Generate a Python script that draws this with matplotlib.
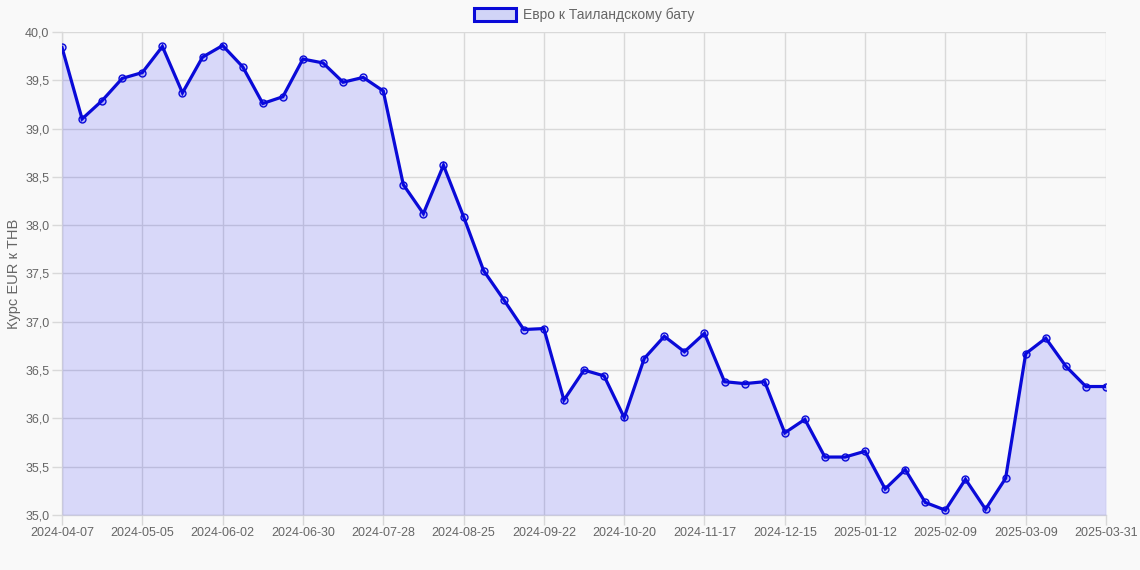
"""EUR/THB weekly rate, Chart.js-like look."""

import matplotlib
matplotlib.use("Agg")
import matplotlib.pyplot as plt
from matplotlib.patches import Patch
from matplotlib.ticker import FuncFormatter, MultipleLocator

# --- data -----------------------------------------------------------------
dates = [
    "2024-04-07", "2024-04-14", "2024-04-21", "2024-04-28", "2024-05-05",
    "2024-05-12", "2024-05-19", "2024-05-26", "2024-06-02", "2024-06-09",
    "2024-06-16", "2024-06-23", "2024-06-30", "2024-07-07", "2024-07-14",
    "2024-07-21", "2024-07-28", "2024-08-04", "2024-08-11", "2024-08-18",
    "2024-08-25", "2024-09-01", "2024-09-08", "2024-09-15", "2024-09-22",
    "2024-09-29", "2024-10-06", "2024-10-13", "2024-10-20", "2024-10-27",
    "2024-11-03", "2024-11-10", "2024-11-17", "2024-11-24", "2024-12-01",
    "2024-12-08", "2024-12-15", "2024-12-22", "2024-12-29", "2025-01-05",
    "2025-01-12", "2025-01-19", "2025-01-26", "2025-02-02", "2025-02-09",
    "2025-02-16", "2025-02-23", "2025-03-02", "2025-03-09", "2025-03-16",
    "2025-03-23", "2025-03-30", "2025-03-31",
]
eur_thb = [
    39.84, 39.10, 39.29, 39.52, 39.58, 39.85, 39.37, 39.74, 39.86, 39.64,
    39.26, 39.33, 39.72, 39.68, 39.48, 39.53, 39.39, 38.42, 38.12, 38.62,
    38.09, 37.53, 37.23, 36.92, 36.93, 36.19, 36.50, 36.44, 36.01, 36.62,
    36.85, 36.69, 36.88, 36.38, 36.36, 36.38, 35.85, 35.99, 35.60, 35.60,
    35.66, 35.27, 35.47, 35.13, 35.05, 35.37, 35.06, 35.38, 36.67, 36.83,
    36.54, 36.33, 36.33,
]
series_label = "Евро к Таиландскому бату"
y_label = "Курс EUR к THB"

# --- style ----------------------------------------------------------------
BG = "#f9f9f9"
GRID = "#d9d9d9"
TEXT = "#666666"
LINE = "#0a0ad8"
FILL = (0.0, 0.0, 1.0, 0.13)

plt.rcParams["font.family"] = ["Liberation Sans", "DejaVu Sans"]

fig = plt.figure(figsize=(11.4, 5.7), dpi=100, facecolor=BG)
ax = fig.add_axes([62 / 1140, 1 - 515 / 570, (1106 - 62) / 1140, (515 - 32) / 570])
ax.set_facecolor(BG)

x = list(range(len(dates)))
ax.fill_between(x, eur_thb, 35.0, color=FILL, linewidth=0, zorder=3)
ax.plot(x, eur_thb, color=LINE, linewidth=2.3, zorder=4, solid_joinstyle="miter")
ax.plot(x, eur_thb, linestyle="none", marker="o", markersize=5,
        markerfacecolor=(0.0, 0.0, 1.0, 0.18), markeredgecolor=LINE,
        markeredgewidth=1.0, zorder=5)

ax.set_xlim(0, len(dates) - 1)
ax.set_ylim(35.0, 40.0)

tick_idx = list(range(0, len(dates) - 1, 4)) + [len(dates) - 1]
ax.set_xticks(tick_idx)
ax.set_xticklabels([dates[i] for i in tick_idx])
ax.yaxis.set_major_locator(MultipleLocator(0.5))
ax.yaxis.set_major_formatter(FuncFormatter(lambda v, _: f"{v:.1f}".replace(".", ",")))

ax.grid(True, color=GRID, linewidth=1.0, zorder=1)
ax.set_axisbelow(True)
ax.tick_params(axis="both", colors=GRID, length=7, width=1.0, labelcolor=TEXT,
               labelsize=9, pad=2)
for side, spine in ax.spines.items():
    if side in ("left", "bottom"):
        spine.set_color(GRID)
        spine.set_linewidth(1.0)
    else:
        spine.set_visible(False)

ax.set_ylabel(y_label, color=TEXT, fontsize=10.5, labelpad=3)

# legend is centred over the plot area, as Chart.js does
handle = Patch(facecolor=(0.82, 0.83, 0.97), edgecolor=LINE, linewidth=2.2)
ax.legend([handle], [series_label], loc="lower center",
          bbox_to_anchor=(0.5, 1.0), frameon=False, fontsize=10,
          labelcolor=TEXT, handlelength=3.0, handleheight=1.0,
          handletextpad=0.5, borderaxespad=0.3)

fig.savefig("out.png", dpi=100, facecolor=BG)
